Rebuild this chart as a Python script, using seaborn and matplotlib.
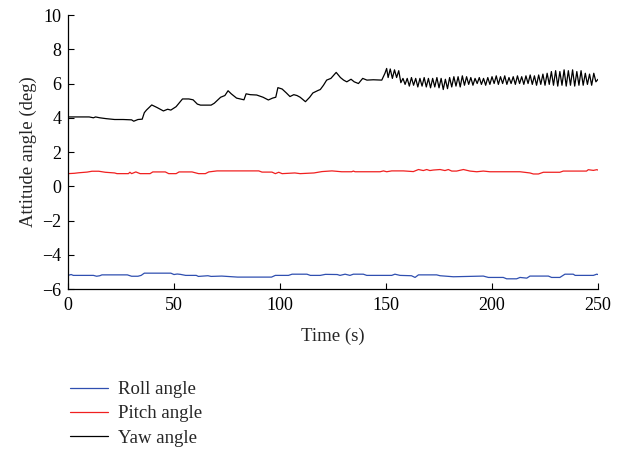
import numpy as np
import pandas as pd
import matplotlib
matplotlib.use('Agg')
import matplotlib.pyplot as plt
import seaborn as sns

# Data (time in s, angle in deg)
roll_t = [0, 1.5, 2.5, 12, 13.5, 15, 16, 28, 30, 33, 34.5, 36, 48.5, 50, 51.5, 53, 55.5,
          60.5, 61.5, 66, 67.5, 72.5, 80, 96, 97.8, 104, 105.7, 112.7, 114.3, 119, 121.4,
          127, 128.3, 130.7, 133, 134.6, 139.3, 140.9, 152.7, 154.2, 156.6, 162, 163.7,
          165.3, 173.9, 175.5, 181.8, 195.9, 198.3, 205.3, 206.9, 211.6, 213.2, 216.4,
          217.9, 226.6, 228.1, 232, 234.4, 238.3, 239.2, 247.8, 249.4, 250]
roll_v = [-5.2, -5.15, -5.2, -5.2, -5.25, -5.22, -5.17, -5.17, -5.25, -5.25, -5.2, -5.07,
          -5.07, -5.15, -5.12, -5.14, -5.2, -5.2, -5.26, -5.22, -5.26, -5.24, -5.3, -5.3,
          -5.2, -5.2, -5.13, -5.13, -5.2, -5.2, -5.14, -5.15, -5.2, -5.13, -5.2, -5.13,
          -5.13, -5.2, -5.2, -5.13, -5.2, -5.22, -5.32, -5.17, -5.17, -5.22, -5.28, -5.24,
          -5.32, -5.32, -5.4, -5.4, -5.32, -5.36, -5.24, -5.24, -5.32, -5.32, -5.13, -5.13,
          -5.2, -5.2, -5.13, -5.15]

pitch_t = [0, 3, 5, 9, 11.3, 14.5, 17.6, 22, 23.1, 28.5, 29.2, 30, 32, 34, 38.7, 40, 45.9,
           47.5, 51, 52.4, 58.5, 61.6, 64.8, 66.4, 70.3, 90, 91.5, 96.2, 97.8, 99.4, 101,
           107, 109.5, 116, 119.8, 124.5, 129.1, 133.8, 134.6, 135.4, 147.2, 148.8, 150.3,
           152.7, 158.2, 162.9, 165.3, 167.6, 169.2, 170.7, 172.3, 175.5, 177.8, 179.4, 181,
           183.3, 186.5, 189.6, 192.8, 195.9, 199, 213.2, 217.9, 219.5, 221.9, 224.2, 232,
           233.6, 244.6, 245.4, 247.8, 249.4, 250]
pitch_v = [0.74, 0.76, 0.79, 0.83, 0.88, 0.88, 0.82, 0.78, 0.74, 0.74, 0.82, 0.74, 0.84, 0.74,
           0.74, 0.84, 0.84, 0.74, 0.74, 0.84, 0.84, 0.74, 0.74, 0.84, 0.9, 0.9, 0.83, 0.83,
           0.74, 0.82, 0.74, 0.78, 0.74, 0.78, 0.86, 0.9, 0.85, 0.85, 0.89, 0.85, 0.85, 0.9,
           0.85, 0.9, 0.9, 0.86, 0.98, 0.92, 0.98, 0.92, 0.95, 0.98, 0.92, 0.98, 0.89, 0.89,
           0.98, 0.89, 0.85, 0.89, 0.85, 0.85, 0.78, 0.72, 0.72, 0.82, 0.82, 0.89, 0.89, 0.97,
           0.93, 0.97, 0.95]

yaw_t = [0, 5, 10, 12, 13, 15, 18, 22, 26, 30, 31, 33, 35, 36, 37, 39.5, 42, 45, 47, 48.5,
         51, 54, 57, 59, 61, 62.5, 67.5, 69, 72, 74, 75.5, 77, 79.5, 83, 84, 86, 89, 92,
         94.5, 96.5, 98, 99, 101, 103, 104.7, 106.5, 108, 109.5, 112, 114, 115.5, 118, 119,
         120.5, 122, 124, 126.5, 128.5, 130, 131.5, 133.5, 135, 137, 139, 141, 144, 148,
         149.5, 150.3]
yaw_v = [4.05, 4.05, 4.05, 4.0, 4.05, 4.0, 3.95, 3.9, 3.9, 3.88, 3.8, 3.9, 3.92, 4.3, 4.45,
         4.75, 4.6, 4.4, 4.5, 4.45, 4.65, 5.1, 5.1, 5.05, 4.8, 4.74, 4.74, 4.85, 5.2, 5.3,
         5.58, 5.4, 5.15, 5.05, 5.4, 5.35, 5.33, 5.2, 5.04, 5.15, 5.2, 5.76, 5.68, 5.45, 5.24,
         5.35, 5.3, 5.2, 4.94, 5.2, 5.45, 5.6, 5.65, 5.9, 6.2, 6.3, 6.65, 6.35, 6.2, 6.1,
         6.25, 6.1, 6.0, 6.3, 6.2, 6.22, 6.2, 6.6, 6.88]
# oscillating part of yaw, one value per second from 151 s to 250 s
yaw_osc = [6.35, 6.85, 6.3, 6.8, 6.35, 6.75, 6.05, 6.3, 5.95, 6.3, 5.85, 6.35, 5.9, 6.3, 5.8,
           6.3, 5.85, 6.35, 5.8, 6.3, 5.75, 6.3, 5.8, 6.35, 5.75, 6.3, 5.65, 6.25, 5.7, 6.35,
           5.8, 6.4, 5.85, 6.4, 5.8, 6.45, 5.9, 6.4, 5.95, 6.35, 5.9, 6.3, 6.0, 6.35, 5.95,
           6.3, 5.9, 6.35, 5.95, 6.4, 6.0, 6.45, 5.95, 6.4, 6.0, 6.45, 5.95, 6.35, 6.0, 6.4,
           5.95, 6.45, 6.0, 6.4, 5.95, 6.45, 6.0, 6.5, 5.95, 6.45, 5.9, 6.5, 5.95, 6.55, 5.9,
           6.6, 5.95, 6.7, 5.9, 6.75, 5.85, 6.7, 5.9, 6.8, 5.85, 6.75, 5.9, 6.8, 5.85, 6.7,
           5.9, 6.75, 5.9, 6.6, 5.95, 6.55, 5.9, 6.6, 6.1, 6.25]
yaw_osc_t = list(np.linspace(151, 250, len(yaw_osc)))

labels = ['Roll angle', 'Pitch angle', 'Yaw angle']
colors = ['#2f4fb0', '#f02020', '#000000']

df = pd.concat([
    pd.DataFrame({'time': roll_t, 'angle': roll_v, 'series': labels[0]}),
    pd.DataFrame({'time': pitch_t, 'angle': pitch_v, 'series': labels[1]}),
    pd.DataFrame({'time': yaw_t + yaw_osc_t, 'angle': yaw_v + yaw_osc, 'series': labels[2]}),
], ignore_index=True)

sns.set_style('ticks')
plt.rcParams['font.family'] = ['Liberation Serif', 'DejaVu Serif']
plt.rcParams['font.size'] = 13

fig = plt.figure(figsize=(6.21, 4.51), dpi=100)
ax = fig.add_axes([0.1095, 0.359, 0.8535, 0.6077])

sns.lineplot(data=df, x='time', y='angle', hue='series', hue_order=labels,
             palette=colors, estimator=None, sort=False, linewidth=0.9, ax=ax)

ax.set_xlim(0, 250)
ax.set_ylim(-6, 10)
ax.set_xticks(range(0, 251, 50))
ax.set_yticks(range(-6, 11, 2))
ax.tick_params(direction='in', length=4, width=0.8, labelsize=13, colors='black')
ax.tick_params(axis='x', pad=5.5)
ax.tick_params(axis='y', pad=4.5)
ax.set_xlabel('Time (s)', fontsize=13.5, labelpad=10)
ax.set_ylabel('Attitude angle (deg)', fontsize=13.5, labelpad=4)
sns.despine(ax=ax)
for s in ['left', 'bottom']:
    ax.spines[s].set_linewidth(0.9)
    ax.spines[s].set_color('black')

handles, labs = ax.get_legend_handles_labels()
ax.get_legend().remove()
fig.legend(handles, labs, loc='upper left', bbox_to_anchor=(0.113, 0.155),
           frameon=False, fontsize=13.5, handlelength=2.0, handletextpad=0.55,
           labelspacing=0.38, borderpad=0, borderaxespad=0)

fig.savefig('out.png', dpi=100)
